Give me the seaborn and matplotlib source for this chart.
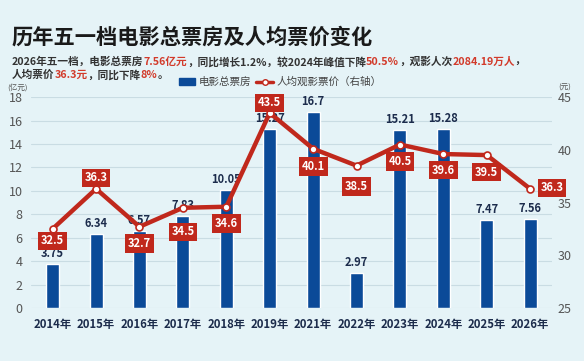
import seaborn as sns
import matplotlib.pyplot as plt
from matplotlib.patches import Patch
from matplotlib.lines import Line2D

# data
years = ["2014年", "2015年", "2016年", "2017年", "2018年", "2019年",
         "2021年", "2022年", "2023年", "2024年", "2025年", "2026年"]
box_office = [3.75, 6.34, 6.57, 7.83, 10.05, 15.27, 16.7, 2.97, 15.21, 15.28, 7.47, 7.56]
ticket_price = [32.5, 36.3, 32.7, 34.5, 34.6, 43.5, 40.1, 38.5, 40.5, 39.6, 39.5, 36.3]
left_ticks = [0, 2, 4, 6, 8, 10, 12, 14, 16, 18]
right_ticks = [25, 30, 35, 40, 45]

# where each price label sits relative to its point (pixels)
price_offsets = [(0, -12), (0, 11), (0, -17), (0, -24), (0, -17), (0, 10),
                 (0, -18), (0, -21), (0, -17), (0, -16), (0, -17), (22, 1)]

BG = "#e5f3f7"
BLUE = "#0b4a98"
RED = "#c0281c"
NAVY = "#1c2c4c"

sns.set_theme(style="white")
plt.rcParams["font.family"] = ["Noto Sans CJK SC", "DejaVu Sans"]

fig = plt.figure(figsize=(5.84, 3.61), dpi=100, facecolor=BG)
ax = fig.add_axes([0.053, 0.147, 0.892, 0.584])
ax.set_facecolor(BG)

sns.barplot(x=years, y=box_office, color=BLUE, width=0.3, saturation=1, ax=ax, zorder=2)
ax.set_ylim(0, 18)
ax.set_yticks(left_ticks)
ax.grid(axis="y", color="#c9dce3", linewidth=0.8, zorder=0)
ax.set_axisbelow(True)
for s in ax.spines.values():
    s.set_visible(False)
ax.tick_params(axis="y", length=0, labelsize=9, labelcolor="#555555", pad=6)
ax.tick_params(axis="x", length=0, pad=7)
for lab in ax.get_xticklabels():
    lab.set_fontsize(8.2)
    lab.set_fontweight("bold")
    lab.set_color(NAVY)

for i, v in enumerate(box_office):
    ax.annotate(f"{v:g}", (i, v), xytext=(0, 3), textcoords="offset points",
                ha="center", va="bottom", fontsize=8, fontweight="bold",
                color=NAVY, zorder=3)

ax2 = ax.twinx()
ax2.set_ylim(25, 45)
ax2.set_yticks(right_ticks)
for s in ax2.spines.values():
    s.set_visible(False)
ax2.tick_params(axis="y", length=0, labelsize=9, labelcolor="#555555", pad=4)
sns.lineplot(x=list(range(len(years))), y=ticket_price, ax=ax2, color=RED,
             linewidth=3.2, marker="o", markersize=5, markerfacecolor="white",
             markeredgecolor=RED, markeredgewidth=1.2, sort=False, zorder=4)
ax2.set_xlim(-0.5, len(years) - 0.5)
ax.set_xlim(-0.5, len(years) - 0.5)

for i, (v, off) in enumerate(zip(ticket_price, price_offsets)):
    ax2.annotate(f"{v:g}", (i, v), xytext=(off[0] * 0.72, off[1] * 0.72),
                 textcoords="offset points", ha="center", va="center",
                 fontsize=8, fontweight="bold", color="white", zorder=6,
                 bbox=dict(boxstyle="square,pad=0.25", fc=RED, ec="none"))

# unit labels
fig.text(18 / 584, 1 - 88 / 361, "(亿元)", fontsize=5.5, color="#555555", ha="center", va="center")
fig.text(565 / 584, 1 - 88 / 361, "(元)", fontsize=5.5, color="#555555", ha="center", va="center")

# title
fig.text(12 / 584, 1 - 37 / 361, "历年五一档电影总票房及人均票价变化", fontsize=15.3,
         fontweight="heavy", color="#1a1a1a", va="center")

# subtitle with red highlights
fig.canvas.draw()
renderer = fig.canvas.get_renderer()
RED_TXT = "#d23a2a"
lines = [
    [("2026年五一档，电影总票房", "#333333"), ("7.56亿元", RED_TXT), ("，同比增长1.2%，较2024年峰值下降", "#333333"),
     ("50.5%", RED_TXT), ("，观影人次", "#333333"), ("2084.19万人", RED_TXT), ("，", "#333333")],
    [("人均票价", "#333333"), ("36.3元", RED_TXT), ("，同比下降", "#333333"), ("8%", RED_TXT), ("。", "#333333")],
]
for row, yy in zip(lines, [62, 75]):
    x = 12 / 584
    for txt, col in row:
        t = fig.text(x, 1 - yy / 361, txt, fontsize=7.7, color=col, va="center", fontweight="bold")
        bb = t.get_window_extent(renderer)
        x = bb.x1 / fig.bbox.width

handles = [Patch(color=BLUE),
           Line2D([0], [0], color=RED, linewidth=2.5, marker="o", markersize=4,
                  markerfacecolor="white", markeredgecolor=RED)]
fig.legend(handles, ["电影总票房", "人均观影票价（右轴）"], loc="center",
           bbox_to_anchor=(280 / 584, 1 - 82 / 361), ncol=2, frameon=False,
           fontsize=7.6, labelcolor="#444444", handlelength=1.6, handleheight=0.6,
           columnspacing=0.5, handletextpad=0.3)

fig.savefig("out.png", dpi=100, facecolor=BG)
